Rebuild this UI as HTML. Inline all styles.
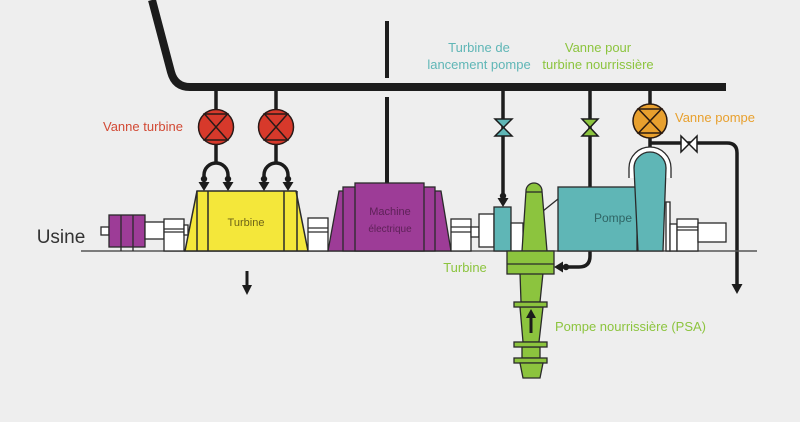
<!DOCTYPE html>
<html><head><meta charset="utf-8"><style>
html,body{margin:0;padding:0;background:#eeeeee;}
svg{display:block;}
text{font-family:"Liberation Sans",Arial,sans-serif;}
</style></head><body>
<svg width="800" height="422" viewBox="0 0 800 422" xmlns="http://www.w3.org/2000/svg">
<rect width="800" height="422" fill="#eeeeee"/>

<!-- main pipe -->
<path d="M152,0 L171,72 Q175,87 190,87 L726,87" fill="none" stroke="#1c1c1c" stroke-width="8"/>
<!-- electric machine vertical line -->
<line x1="387" y1="21" x2="387" y2="78" stroke="#1c1c1c" stroke-width="4"/>
<line x1="387" y1="97" x2="387" y2="184" stroke="#1c1c1c" stroke-width="4"/>

<!-- red valve pipes -->
<g stroke="#1c1c1c" stroke-width="3.5" fill="none">
<line x1="216" y1="90" x2="216" y2="112"/>
<line x1="216" y1="143" x2="216" y2="164"/>
<path d="M204,180 L204,175 A12,12 0 0 1 228,175 L228,180"/>
<line x1="276" y1="90" x2="276" y2="112"/>
<line x1="276" y1="143" x2="276" y2="164"/>
<path d="M264,180 L264,175 A12,12 0 0 1 288,175 L288,180"/>
</g>
<g fill="#1c1c1c">
<circle cx="204" cy="179" r="3.2"/><circle cx="228" cy="179" r="3.2"/>
<circle cx="264" cy="179" r="3.2"/><circle cx="288" cy="179" r="3.2"/>
<polygon points="198.5,182 209.5,182 204,191"/><polygon points="222.5,182 233.5,182 228,191"/>
<polygon points="258.5,182 269.5,182 264,191"/><polygon points="282.5,182 293.5,182 288,191"/>
</g>
<!-- red valves -->
<g stroke="#2a1a18" stroke-width="1.5">
<circle cx="216" cy="127" r="17.5" fill="#d7392b"/>
<path d="M204.5,114 L227.5,114 L204.5,140 L227.5,140 Z" fill="none"/>
<circle cx="276" cy="127" r="17.5" fill="#d7392b"/>
<path d="M264.5,114 L287.5,114 L264.5,140 L287.5,140 Z" fill="none"/>
</g>

<!-- teal launch pipe -->
<line x1="503" y1="90" x2="503" y2="199" stroke="#1c1c1c" stroke-width="3.5"/>
<circle cx="503" cy="196" r="3.2" fill="#1c1c1c"/>
<polygon points="497.5,198 508.5,198 503,207" fill="#1c1c1c"/>
<path d="M495,119 L512,119 L495,136 L512,136 Z" fill="#5fb6b6" stroke="#1c1c1c" stroke-width="1.5"/>

<!-- green feed pipe -->
<path d="M590,90 L590,256 Q590,267 579,267 L563,267" fill="none" stroke="#1c1c1c" stroke-width="3.5"/>
<circle cx="566" cy="267" r="3.2" fill="#1c1c1c"/>
<polygon points="563,261.5 563,272.5 554,267" fill="#1c1c1c"/>
<path d="M582,119 L598,119 L582,136 L598,136 Z" fill="#8cc43e" stroke="#1c1c1c" stroke-width="1.5"/>

<!-- orange pump valve pipe -->
<line x1="650" y1="90" x2="650" y2="106" stroke="#1c1c1c" stroke-width="3.5"/>
<line x1="650" y1="135" x2="650" y2="149" stroke="#1c1c1c" stroke-width="3.5"/>
<path d="M650,143 L727,143 Q737,143 737,153 L737,285" fill="none" stroke="#1c1c1c" stroke-width="3.5"/>
<polygon points="731.5,284 742.5,284 737,294" fill="#1c1c1c"/>
<path d="M681,136 L681,152 L697,136 L697,152 Z" fill="#ffffff" stroke="#1c1c1c" stroke-width="1.5"/>
<circle cx="650" cy="121" r="17" fill="#e8a02e" stroke="#2a1a10" stroke-width="1.5"/>
<path d="M638.5,109 L661.5,109 L638.5,133 L661.5,133 Z" fill="none" stroke="#2a1a10" stroke-width="1.5"/>

<!-- ground line -->
<line x1="81" y1="251" x2="757" y2="251" stroke="#555" stroke-width="1.5"/>

<!-- left motor -->
<g stroke="#2a2a2a" stroke-width="1.3">
<rect x="101" y="227" width="8" height="8" fill="#fff"/>
<rect x="109" y="215" width="36" height="32" fill="#9d3c97"/>
<line x1="121" y1="215" x2="121" y2="251"/>
<line x1="133" y1="215" x2="133" y2="251"/>
<rect x="145" y="222" width="19" height="17" fill="#fff"/>
<rect x="164" y="219" width="20" height="32" fill="#fff"/>
<line x1="164" y1="229" x2="184" y2="229"/>
<line x1="164" y1="232" x2="184" y2="232"/>
<rect x="184" y="225" width="4" height="10" fill="#fff"/>
</g>

<!-- turbine -->
<g stroke="#2a2a2a" stroke-width="1.5">
<polygon points="185,251 197,191 296,191 308,251" fill="#f4e73a"/>
<line x1="197" y1="191" x2="197" y2="251"/>
<line x1="208" y1="191" x2="208" y2="251"/>
<line x1="284" y1="191" x2="284" y2="251"/>
<line x1="297" y1="191" x2="297" y2="251"/>
<rect x="308" y="218" width="20" height="33" fill="#fff" stroke-width="1.3"/>
<line x1="308" y1="228" x2="328" y2="228" stroke-width="1.3"/>
<line x1="308" y1="232" x2="328" y2="232" stroke-width="1.3"/>
</g>
<text x="246" y="226" font-size="11" fill="#6e6418" text-anchor="middle">Turbine</text>

<!-- electric machine -->
<g stroke="#2a2a2a" stroke-width="1.3" fill="#9d3c97">
<polygon points="328,251 339,191 441,191 451,251"/>
<rect x="343" y="187" width="92" height="64"/>
<rect x="355" y="183" width="69" height="68"/>
</g>
<text x="390" y="215" font-size="11" fill="#5e2158" text-anchor="middle">Machine</text>
<text x="390" y="232" font-size="10" fill="#5e2158" text-anchor="middle">électrique</text>

<!-- right couplings -->
<g stroke="#2a2a2a" stroke-width="1.3" fill="#fff">
<rect x="451" y="219" width="20" height="32"/>
<line x1="451" y1="227" x2="471" y2="227"/>
<line x1="451" y1="232" x2="471" y2="232"/>
<rect x="471" y="227" width="8" height="10"/>
<rect x="479" y="214" width="15" height="33"/>
<rect x="494" y="207" width="17" height="44" fill="#5fb6b6"/>
<rect x="511" y="223" width="12" height="28"/>
</g>

<!-- pump -->
<line x1="543" y1="211" x2="558" y2="199" stroke="#2a2a2a" stroke-width="1.3"/>
<rect x="558" y="187" width="79" height="64" fill="#5fb6b6" stroke="#2a2a2a" stroke-width="1.3"/>
<text x="613" y="222" font-size="12" fill="#2f6464" text-anchor="middle">Pompe</text>
<path d="M629,178 L629,168 A21,21 0 0 1 671,168 L671,178" fill="#ffffff" stroke="#2a2a2a" stroke-width="1.3"/>
<path d="M638,251 L634,168 A16,16 0 0 1 666,168 L663,251 Z" fill="#5fb6b6" stroke="#2a2a2a" stroke-width="1.3"/>
<g stroke="#2a2a2a" stroke-width="1.3" fill="#fff">
<rect x="666" y="202" width="4" height="49"/>
<rect x="670" y="224" width="7" height="27"/>
<rect x="677" y="219" width="21" height="32"/>
<line x1="677" y1="227" x2="698" y2="227"/>
<line x1="677" y1="230" x2="698" y2="230"/>
<rect x="698" y="223" width="28" height="19"/>
</g>

<!-- green feed turbine / pump -->
<g stroke="#2a2a2a" stroke-width="1.3" fill="#8cc43e">
<path d="M522,251 L526,191 A8,8 0 0 1 542,191 L547,251 Z"/>
<line x1="526" y1="192" x2="542" y2="192"/>
<polygon points="520,273 543,273 540,302 521,302"/>
<rect x="507" y="251" width="47" height="23"/>
<line x1="507" y1="264" x2="554" y2="264"/>
<polygon points="520,307 543,307 539,342 523,342"/>
<rect x="514" y="302" width="33" height="5"/>
<polygon points="522,347 540,347 540,358 522,358"/>
<rect x="514" y="342" width="33" height="5"/>
<rect x="514" y="358" width="33" height="5"/>
<polygon points="520,363 543,363 540,378 523,378"/>
</g>
<line x1="531" y1="333" x2="531" y2="316" stroke="#1c1c1c" stroke-width="3"/>
<polygon points="526,318 536,318 531,309" fill="#1c1c1c"/>

<!-- down arrow under turbine -->
<line x1="247" y1="271" x2="247" y2="287" stroke="#1c1c1c" stroke-width="3"/>
<polygon points="242,285 252,285 247,295" fill="#1c1c1c"/>

<!-- labels -->
<text x="61" y="243" font-size="19" fill="#333" text-anchor="middle">Usine</text>
<text x="143" y="131" font-size="13" fill="#d24a35" text-anchor="middle">Vanne turbine</text>
<text x="479" y="52" font-size="13" fill="#5fb6b6" text-anchor="middle">Turbine de</text>
<text x="479" y="69" font-size="13" fill="#5fb6b6" text-anchor="middle">lancement pompe</text>
<text x="598" y="52" font-size="13" fill="#8cc43e" text-anchor="middle">Vanne pour</text>
<text x="598" y="69" font-size="13" fill="#8cc43e" text-anchor="middle">turbine nourrissière</text>
<text x="675" y="122" font-size="13" fill="#e8a02e">Vanne pompe</text>
<text x="465" y="272" font-size="13" fill="#8cc43e" text-anchor="middle">Turbine</text>
<text x="555" y="331" font-size="13" fill="#8cc43e">Pompe nourrissière (PSA)</text>
</svg>
</body></html>
